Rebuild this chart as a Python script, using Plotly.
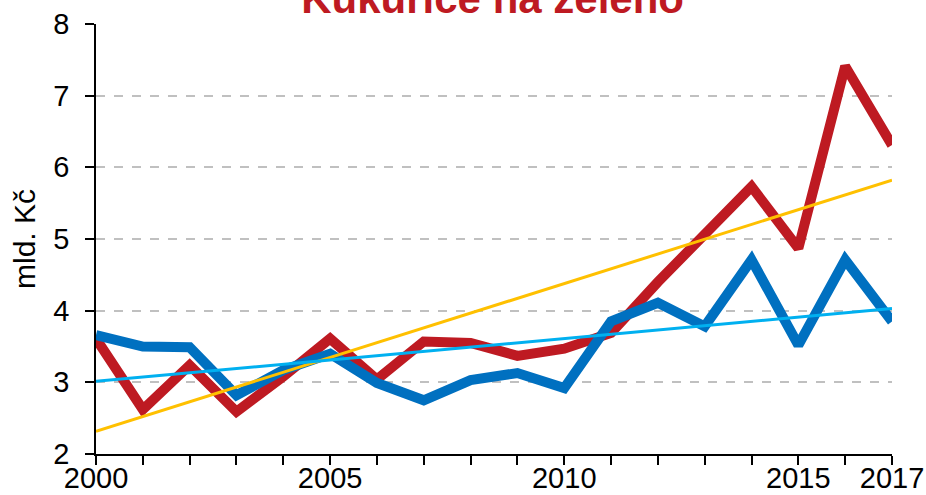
import numpy as np
import plotly.graph_objects as go

years = list(range(2000, 2018))
red_values = [3.61, 2.62, 3.24, 2.59, 3.08, 3.61, 3.04, 3.57, 3.55, 3.37,
              3.47, 3.69, 4.40, 5.08, 5.73, 4.87, 7.41, 6.31]
blue_values = [3.66, 3.50, 3.49, 2.82, 3.17, 3.40, 2.99, 2.75, 3.03, 3.13,
               2.92, 3.85, 4.11, 3.78, 4.71, 3.52, 4.71, 3.85]
x_label_years = [2000, 2005, 2010, 2015, 2017]
y_ticks = [2, 3, 4, 5, 6, 7, 8]

title_text = "Kukuřice na zeleno"
y_title = "mld. Kč"

RED = "#BE1A22"
BLUE = "#0070C0"
YELLOW = "#FFC000"
LIGHTBLUE = "#00B0F0"

x = np.array(years, dtype=float)
red_fit = np.polyval(np.polyfit(x, red_values, 1), x)
blue_fit = np.polyval(np.polyfit(x, blue_values, 1), x)

fig = go.Figure()
fig.add_trace(go.Scatter(x=years, y=red_values, mode="lines",
                         line=dict(color=RED, width=10), hoverinfo="skip"))
fig.add_trace(go.Scatter(x=years, y=blue_values, mode="lines",
                         line=dict(color=BLUE, width=10), hoverinfo="skip"))
fig.add_trace(go.Scatter(x=years, y=red_fit, mode="lines",
                         line=dict(color=YELLOW, width=3), hoverinfo="skip"))
fig.add_trace(go.Scatter(x=years, y=blue_fit, mode="lines",
                         line=dict(color=LIGHTBLUE, width=3), hoverinfo="skip"))

ticktext = [str(y) if y in x_label_years else "" for y in years]

fig.update_layout(
    width=926, height=495,
    margin=dict(l=96, r=34, t=24, b=41, autoexpand=False),
    paper_bgcolor="white", plot_bgcolor="white",
    showlegend=False,
    font=dict(family="Liberation Sans, Arial, sans-serif", color="black", size=29),
    title=dict(text="<b>" + title_text + "</b>",
               font=dict(family="Liberation Sans, Arial", size=42, color=RED),
               x=0.532, xanchor="center", xref="container",
               y=1 - 13 / 495, yanchor="bottom", yref="container", automargin=False),
    xaxis=dict(range=[2000, 2017], tickmode="array", tickvals=years, ticktext=ticktext,
               ticks="outside", ticklen=9, tickwidth=1.5, tickcolor="black",
               showline=True, linecolor="black", linewidth=1.5,
               showgrid=False, zeroline=False, automargin=False,
               tickfont=dict(size=29), tickangle=0, ticklabelstandoff=-12),
    yaxis=dict(range=[2, 8], tickmode="array", tickvals=y_ticks,
               ticks="outside", ticklen=9, tickwidth=1.5, tickcolor="black",
               showline=True, linecolor="black", linewidth=1.5,
               showgrid=True, gridcolor="#C0C0C0", griddash="dash", gridwidth=1.5,
               zeroline=False, tickfont=dict(size=29), ticklabelstandoff=10,
               automargin=False,
               title=dict(text=y_title, font=dict(size=30), standoff=9)),
)

fig.write_html("out.html", config={"displayModeBar": False},
               post_script="document.body.style.margin='0';document.body.style.overflow='hidden';")
